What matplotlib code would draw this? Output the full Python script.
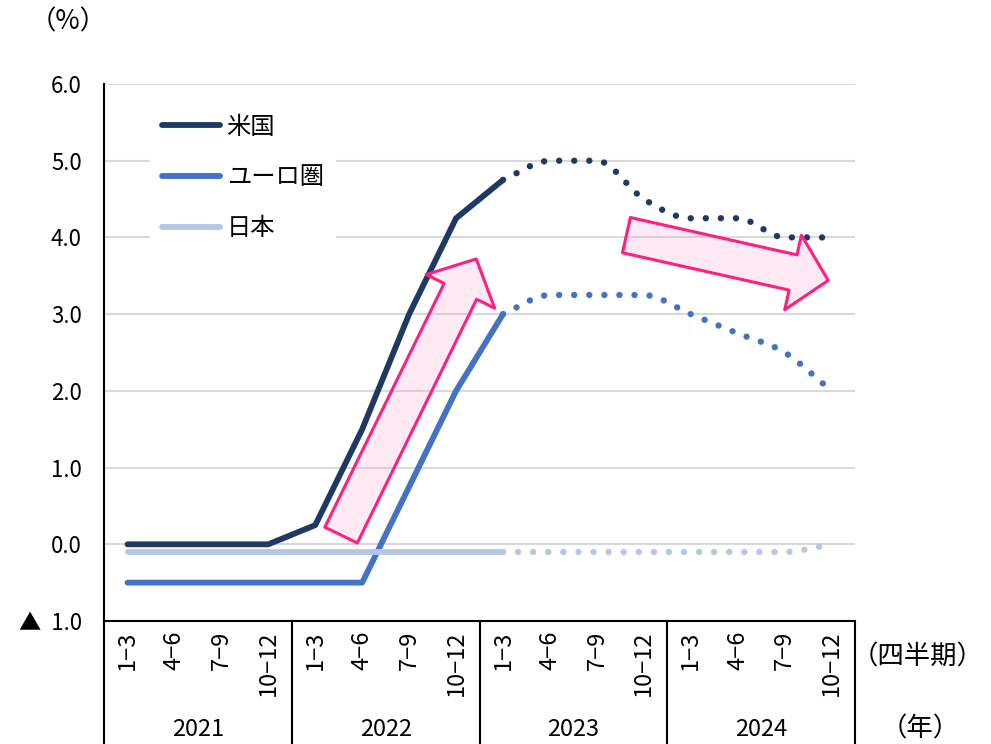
import matplotlib

matplotlib.use("Agg")
import matplotlib.pyplot as plt
from matplotlib import transforms
from matplotlib.patches import ArrowStyle, FancyArrowPatch, PathPatch
from matplotlib.path import Path

plt.rcParams["font.family"] = ["Noto Sans CJK JP", "DejaVu Sans"]

years = ["2021", "2022", "2023", "2024"]
quarters = ["1−3", "4−6", "7−9", "10−12"]
series_names = ["米国", "ユーロ圏", "日本"]
colors = ["#1F3864", "#4472C4", "#B4C7E7"]

# 実績: 2021 1-3 ～ 2023 1-3
us_actual = [0.0, 0.0, 0.0, 0.0, 0.25, 1.5, 3.0, 4.25, 4.75]
euro_actual = [-0.5, -0.5, -0.5, -0.5, -0.5, -0.5, 0.75, 2.0, 3.0]
japan_actual = [-0.1, -0.1, -0.1, -0.1, -0.1, -0.1, -0.1, -0.1, -0.1]

# 見通し: 2023 1-3 ～ 2024 10-12
us_forecast = [4.75, 5.0, 5.0, 4.5, 4.25, 4.25, 4.0, 4.0]
euro_forecast = [3.0, 3.25, 3.25, 3.25, 3.0, 2.75, 2.5, 2.0]
japan_forecast = [-0.1, -0.1, -0.1, -0.1, -0.1, -0.1, -0.1, 0.0]

y_ticks = [-1, 0, 1, 2, 3, 4, 5, 6]
y_tick_labels = ["▲  1.0", "0.0", "1.0", "2.0", "3.0", "4.0", "5.0", "6.0"]


def smooth_path(xs, ys):
    # Excel風のなめらかな線 (ベジェ曲線)
    n = len(xs)
    tangents = []
    for i in range(n):
        if i == 0:
            mx, my = xs[1] - xs[0], ys[1] - ys[0]
        elif i == n - 1:
            mx, my = xs[-1] - xs[-2], ys[-1] - ys[-2]
        else:
            mx = (xs[i + 1] - xs[i - 1]) / 2
            my = (ys[i + 1] - ys[i - 1]) / 2
            if (ys[i] - ys[i - 1]) * (ys[i + 1] - ys[i]) <= 0:
                my = 0.0
        tangents.append((mx, my))
    verts = [(xs[0], ys[0])]
    codes = [Path.MOVETO]
    for i in range(n - 1):
        c1 = (xs[i] + tangents[i][0] / 3, ys[i] + tangents[i][1] / 3)
        c2 = (xs[i + 1] - tangents[i + 1][0] / 3, ys[i + 1] - tangents[i + 1][1] / 3)
        verts += [c1, c2, (xs[i + 1], ys[i + 1])]
        codes += [Path.CURVE4] * 3
    return Path(verts, codes)


fig = plt.figure(figsize=(9.91, 7.44), dpi=100)
ax = fig.add_axes([0.105, 0.1653, 0.7578, 0.7218])

n_actual = len(us_actual)
x_actual = list(range(n_actual))
x_forecast = list(range(n_actual - 1, n_actual - 1 + len(us_forecast)))

lw = 4.2
actual = [us_actual, euro_actual, japan_actual]
forecast = [us_forecast, euro_forecast, japan_forecast]
for name, color, ya, yf in zip(series_names, colors, actual, forecast):
    ax.plot(x_actual, ya, color=color, lw=lw, solid_capstyle="round",
            solid_joinstyle="round", label=name, zorder=3)
    patch = PathPatch(smooth_path(x_forecast, yf), fill=False, edgecolor=color,
                      lw=4.6, linestyle=(0, (0.01, 2.35)), capstyle="round", zorder=3)
    ax.add_patch(patch)

# 矢印
arrow_style = ArrowStyle("Simple", head_length=26, head_width=55, tail_width=26)
for tail, tip in [((4.55, 0.12), (7.43, 3.72)), ((10.63, 4.03), (14.93, 3.44))]:
    arrow = FancyArrowPatch(tail, tip, arrowstyle=arrow_style, mutation_scale=1,
                            shrinkA=0, shrinkB=0, facecolor=(1.0, 0.6, 0.8, 0.2),
                            edgecolor="#FF1F7F", lw=2.2, zorder=4)
    ax.add_patch(arrow)

ax.set_xlim(-0.5, 15.5)
ax.set_ylim(-1, 6)
ax.set_yticks(y_ticks)
ax.set_yticklabels(y_tick_labels, fontsize=16)
ax.tick_params(axis="y", length=0, pad=16)
ax.set_xticks([])
ax.grid(axis="y", color="#D9D9D9", lw=1.5)
ax.set_axisbelow(True)
for side in ["top", "right"]:
    ax.spines[side].set_visible(False)
ax.spines["left"].set_linewidth(1.5)
ax.spines["bottom"].set_linewidth(1.5)

# 下部の表形式の目盛り
trans = transforms.blended_transform_factory(ax.transData, fig.transFigure)
ax_bottom = 0.1653
for k in range(len(years) + 1):
    x = -0.5 + 4 * k
    ax.plot([x, x], [0, ax_bottom], transform=trans, color="black", lw=1.5, clip_on=False)
for k, year in enumerate(years):
    for j, q in enumerate(quarters):
        ax.text(4 * k + j, 1 - 631 / 744, q, transform=trans, rotation=90,
                ha="center", va="top", fontsize=17)
    ax.text(4 * k + 1.5, 1 - 730 / 744, year, transform=trans, ha="center",
            va="center", fontsize=17)

fig.text(918 / 991, 1 - 657 / 744, "（四半期）", ha="center", va="center", fontsize=19)
fig.text(920 / 991, 1 - 729 / 744, "（年）", ha="center", va="center", fontsize=19)
fig.text(68 / 991, 1 - 22 / 744, "（%）", ha="center", va="center", fontsize=19)

leg = ax.legend(loc="upper left", bbox_to_anchor=(0.045, 0.99), fontsize=17.5,
                handlelength=2.4, handletextpad=0.25, labelspacing=1.02,
                frameon=True, fancybox=False, framealpha=1, facecolor="white",
                edgecolor="none", borderpad=0.5)
for line in leg.get_lines():
    line.set_linewidth(lw)

fig.savefig("out.png", dpi=100)
